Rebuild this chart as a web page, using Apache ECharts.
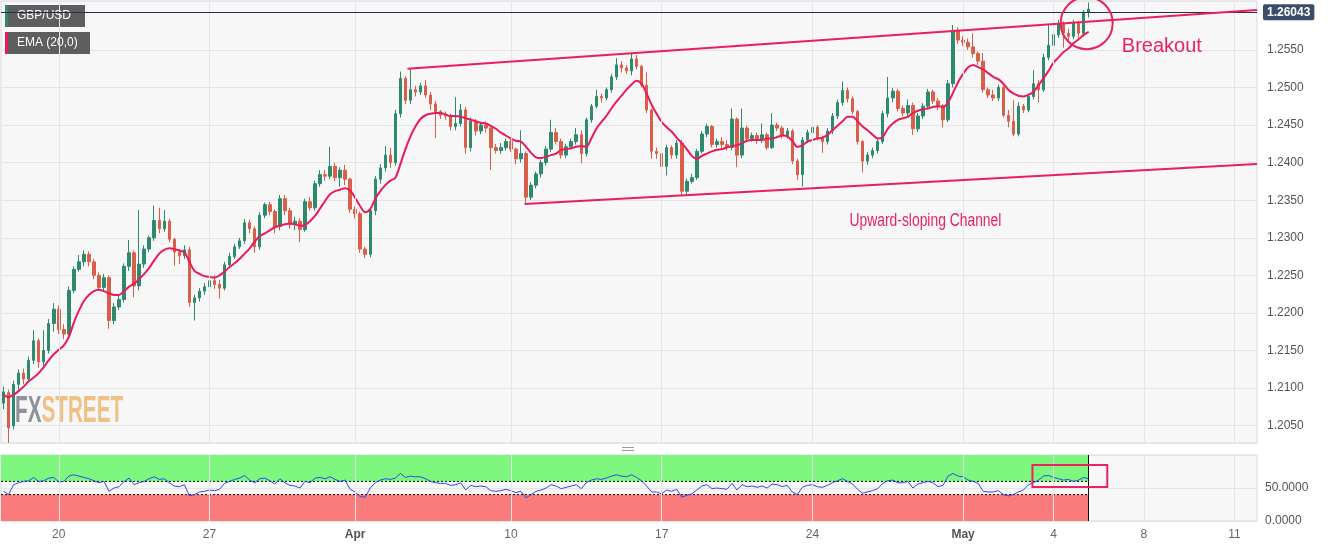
<!DOCTYPE html>
<html><head><meta charset="utf-8">
<script src="https://cdn.jsdelivr.net/npm/echarts@6/dist/echarts.min.js"></script>
<style>html,body{margin:0;padding:0;background:#fff}#c{width:1328px;height:548px}</style>
</head><body><div id="c"></div>
<script>
// ---- data (4-hour candles, GBP/USD) ----
const opens = [
1.2080,1.2094,1.2050,1.2105,1.2120,1.2112,1.2137,1.2163,1.2135,1.2150,1.2186,1.2205,1.2178,1.2172,1.2230,1.2258,1.2268,1.2278,1.2268,1.2250,
1.2234,1.2247,1.2190,1.2208,1.2218,1.2262,1.2280,1.2236,1.2265,1.2285,1.2300,1.2323,1.2312,1.2322,1.2298,1.2281,1.2276,1.2284,1.2214,1.2220,
1.2229,1.2235,1.2243,1.2238,1.2233,1.2264,1.2275,1.2288,1.2296,1.2320,1.2312,1.2288,1.2330,1.2344,1.2335,1.2315,1.2352,1.2336,1.2318,1.2322,
1.2311,1.2348,1.2340,1.2372,1.2384,1.2382,1.2395,1.2380,1.2390,1.2378,1.2338,1.2332,1.2285,1.2278,1.2336,1.2378,1.2393,1.2410,1.2400,1.2465,
1.2512,1.2483,1.2497,1.2494,1.2502,1.2490,1.2478,1.2468,1.2463,1.2462,1.2448,1.2452,1.2470,1.2420,1.2455,1.2442,1.2450,1.2446,1.2420,1.2416,
1.2420,1.2428,1.2418,1.2405,1.2412,1.2354,1.2370,1.2385,1.2400,1.2418,1.2440,1.2428,1.2410,1.2421,1.2428,1.2437,1.2412,1.2457,1.2475,1.2488,
1.2486,1.2497,1.2514,1.2530,1.2526,1.2522,1.2538,1.2528,1.2503,1.2470,1.2415,1.2412,1.2395,1.2420,1.2410,1.2426,1.2362,1.2375,1.2380,1.2415,
1.2438,1.2448,1.2424,1.2428,1.2424,1.2420,1.2458,1.2410,1.2446,1.2432,1.2436,1.2430,1.2437,1.2420,1.2450,1.2446,1.2436,1.2442,1.2402,1.2384,
1.2430,1.2440,1.2447,1.2432,1.2428,1.2442,1.2462,1.2480,1.2496,1.2485,1.2468,1.2428,1.2402,1.2410,1.2416,1.2428,1.2465,1.2486,1.2495,1.2472,
1.2466,1.2476,1.2445,1.2462,1.2475,1.2494,1.2482,1.2476,1.2457,1.2505,1.2576,1.2563,1.2560,1.2554,1.2545,1.2535,1.2497,1.2490,1.2486,1.2500,
1.2463,1.2455,1.2438,1.2475,1.2470,1.2488,1.2505,1.2497,1.2540,1.2556,1.2570,1.2585,1.2572,1.2568,1.2585,1.2572,1.2600
];
const closes = [
1.2095,1.2047,1.2105,1.2120,1.2112,1.2137,1.2163,1.2135,1.2150,1.2186,1.2205,1.2178,1.2172,1.2230,1.2258,1.2268,1.2278,1.2268,1.2250,1.2234,
1.2247,1.2190,1.2208,1.2218,1.2262,1.2280,1.2236,1.2265,1.2285,1.2300,1.2323,1.2312,1.2322,1.2298,1.2281,1.2276,1.2284,1.2214,1.2220,1.2229,
1.2235,1.2243,1.2238,1.2233,1.2264,1.2275,1.2288,1.2296,1.2320,1.2312,1.2288,1.2330,1.2344,1.2335,1.2315,1.2352,1.2336,1.2318,1.2322,1.2311,
1.2348,1.2340,1.2372,1.2384,1.2382,1.2395,1.2380,1.2390,1.2378,1.2338,1.2332,1.2285,1.2278,1.2336,1.2378,1.2393,1.2410,1.2400,1.2465,1.2512,
1.2483,1.2497,1.2494,1.2502,1.2490,1.2478,1.2468,1.2463,1.2462,1.2448,1.2452,1.2470,1.2420,1.2455,1.2442,1.2450,1.2446,1.2420,1.2416,1.2420,
1.2428,1.2418,1.2405,1.2412,1.2354,1.2370,1.2385,1.2400,1.2418,1.2440,1.2428,1.2410,1.2421,1.2428,1.2437,1.2412,1.2457,1.2475,1.2488,1.2486,
1.2497,1.2514,1.2530,1.2526,1.2522,1.2538,1.2528,1.2503,1.2470,1.2415,1.2412,1.2395,1.2420,1.2410,1.2426,1.2362,1.2375,1.2380,1.2415,1.2438,
1.2448,1.2424,1.2428,1.2424,1.2420,1.2458,1.2410,1.2446,1.2432,1.2436,1.2430,1.2437,1.2420,1.2450,1.2446,1.2436,1.2442,1.2402,1.2384,1.2430,
1.2440,1.2447,1.2432,1.2428,1.2442,1.2462,1.2480,1.2496,1.2485,1.2468,1.2428,1.2402,1.2410,1.2416,1.2428,1.2465,1.2486,1.2495,1.2472,1.2466,
1.2476,1.2445,1.2462,1.2475,1.2494,1.2482,1.2476,1.2457,1.2505,1.2576,1.2563,1.2560,1.2554,1.2545,1.2535,1.2497,1.2490,1.2486,1.2500,1.2463,
1.2455,1.2438,1.2475,1.2470,1.2488,1.2505,1.2497,1.2540,1.2556,1.2570,1.2585,1.2572,1.2568,1.2585,1.2572,1.2600,1.26043
];
const lows = [
1.2072,1.2027,1.2045,1.2098,1.2105,1.2108,1.2132,1.2127,1.2130,1.2146,1.2175,1.2172,1.2165,1.2168,1.2226,1.2255,1.2262,1.2262,1.2245,1.2230,
1.2230,1.2179,1.2185,1.2204,1.2214,1.2256,1.2221,1.2230,1.2260,1.2281,1.2296,1.2306,1.2308,1.2294,1.2263,1.2265,1.2272,1.2208,1.2190,1.2215,
1.2224,1.2230,1.2232,1.2219,1.2230,1.2260,1.2272,1.2285,1.2292,1.2306,1.2280,1.2284,1.2326,1.2330,1.2306,1.2310,1.2330,1.2312,1.2310,1.2294,
1.2308,1.2336,1.2336,1.2368,1.2376,1.2378,1.2375,1.2368,1.2370,1.2333,1.2326,1.2280,1.2273,1.2274,1.2330,1.2372,1.2388,1.2393,1.2396,1.2460,
1.2478,1.2478,1.2488,1.2490,1.2486,1.2470,1.2433,1.2458,1.2457,1.2443,1.2443,1.2448,1.2412,1.2415,1.2436,1.2438,1.2440,1.2390,1.2412,1.2412,
1.2416,1.2414,1.2398,1.2400,1.2346,1.2350,1.2366,1.2380,1.2396,1.2414,1.2424,1.2405,1.2406,1.2418,1.2424,1.2399,1.2408,1.2453,1.2472,1.2480,
1.2483,1.2493,1.2510,1.2520,1.2518,1.2516,1.2524,1.2500,1.2466,1.2405,1.2405,1.2390,1.2383,1.2405,1.2405,1.2356,1.2358,1.2372,1.2377,1.2412,
1.2434,1.2420,1.2420,1.2420,1.2416,1.2416,1.2394,1.2406,1.2428,1.2428,1.2425,1.2426,1.2417,1.2418,1.2442,1.2432,1.2432,1.2398,1.2377,1.2368,
1.2426,1.2436,1.2430,1.2413,1.2424,1.2438,1.2458,1.2476,1.2480,1.2464,1.2424,1.2387,1.2397,1.2406,1.2412,1.2425,1.2460,1.2480,1.2468,1.2462,
1.2462,1.2437,1.2441,1.2458,1.2472,1.2478,1.2470,1.2447,1.2454,1.2500,1.2558,1.2555,1.2550,1.2540,1.2530,1.2493,1.2486,1.2482,1.2482,1.2460,
1.2447,1.2435,1.2435,1.2466,1.2467,1.2484,1.2480,1.2494,1.2536,1.2550,1.2566,1.2553,1.2559,1.2564,1.2566,1.2568,1.2593
];
const highs = [
1.2102,1.2098,1.2110,1.2125,1.2126,1.2142,1.2177,1.2166,1.2177,1.2192,1.2213,1.2210,1.2185,1.2235,1.2262,1.2277,1.2283,1.2282,1.2272,1.2254,
1.2252,1.2250,1.2213,1.2224,1.2266,1.2297,1.2283,1.2337,1.2290,1.2303,1.2343,1.2340,1.2337,1.2325,1.2300,1.2285,1.2290,1.2288,1.2224,1.2233,
1.2240,1.2250,1.2250,1.2244,1.2268,1.2280,1.2292,1.2300,1.2325,1.2324,1.2315,1.2334,1.2347,1.2348,1.2338,1.2357,1.2357,1.2340,1.2328,1.2326,
1.2352,1.2354,1.2376,1.2390,1.2390,1.2421,1.2400,1.2394,1.2397,1.2380,1.2342,1.2335,1.2288,1.2340,1.2382,1.2398,1.2422,1.2420,1.2470,1.2521,
1.2515,1.2526,1.2502,1.2506,1.2510,1.2494,1.2482,1.2470,1.2468,1.2465,1.2487,1.2478,1.2474,1.2460,1.2458,1.2453,1.2455,1.2450,1.2425,1.2426,
1.2432,1.2432,1.2420,1.2443,1.2415,1.2374,1.2388,1.2404,1.2422,1.2457,1.2446,1.2432,1.2425,1.2432,1.2446,1.2443,1.2460,1.2478,1.2497,1.2492,
1.2500,1.2518,1.2539,1.2535,1.2530,1.2546,1.2543,1.2530,1.2520,1.2472,1.2420,1.2418,1.2424,1.2423,1.2430,1.2430,1.2379,1.2385,1.2418,1.2442,
1.2452,1.2450,1.2432,1.2434,1.2430,1.2472,1.2460,1.2472,1.2449,1.2440,1.2440,1.2452,1.2440,1.2466,1.2453,1.2449,1.2446,1.2445,1.2405,1.2434,
1.2444,1.2450,1.2450,1.2436,1.2446,1.2466,1.2484,1.2508,1.2500,1.2488,1.2470,1.2430,1.2414,1.2420,1.2432,1.2469,1.2514,1.2499,1.2498,1.2476,
1.2484,1.2480,1.2466,1.2479,1.2498,1.2497,1.2486,1.2478,1.2510,1.2583,1.2580,1.2568,1.2565,1.2572,1.2548,1.2546,1.2500,1.2497,1.2504,1.2503,
1.2470,1.2483,1.2480,1.2478,1.2492,1.2523,1.2510,1.2545,1.2583,1.2576,1.2590,1.2588,1.2578,1.2590,1.2588,1.2603,1.2613
];
const ema20 = [
1.2091,1.2088,1.2091,1.2096,1.2102,1.2109,1.2114,1.2120,1.2128,1.2137,1.2145,1.2151,1.2157,1.2168,1.2187,1.2203,1.2216,1.2224,1.2229,1.2231,
1.2229,1.2226,1.2224,1.2224,1.2229,1.2235,1.2239,1.2245,1.2252,1.2260,1.2270,1.2279,1.2284,1.2286,1.2285,1.2283,1.2281,1.2268,1.2256,1.2252,
1.2249,1.2248,1.2247,1.2250,1.2255,1.2261,1.2266,1.2272,1.2279,1.2286,1.2295,1.2302,1.2306,1.2310,1.2314,1.2316,1.2318,1.2319,1.2318,1.2316,
1.2317,1.2322,1.2329,1.2339,1.2349,1.2358,1.2362,1.2364,1.2366,1.2363,1.2353,1.2342,1.2334,1.2338,1.2352,1.2362,1.2370,1.2376,1.2380,1.2398,
1.2418,1.2435,1.2448,1.2458,1.2463,1.2465,1.2466,1.2466,1.2464,1.2462,1.2462,1.2461,1.2459,1.2457,1.2455,1.2453,1.2452,1.2449,1.2445,1.2440,
1.2436,1.2432,1.2429,1.2428,1.2421,1.2413,1.2407,1.2406,1.2408,1.2410,1.2412,1.2417,1.2418,1.2419,1.2421,1.2422,1.2421,1.2432,1.2445,1.2454,
1.2462,1.2472,1.2481,1.2489,1.2497,1.2504,1.2509,1.2505,1.2492,1.2477,1.2465,1.2454,1.2447,1.2441,1.2433,1.2426,1.2418,1.2409,1.2405,1.2409,
1.2412,1.2415,1.2417,1.2418,1.2420,1.2422,1.2423,1.2426,1.2429,1.2430,1.2430,1.2430,1.2432,1.2432,1.2434,1.2436,1.2435,1.2429,1.2421,1.2423,
1.2428,1.2430,1.2432,1.2433,1.2437,1.2443,1.2449,1.2455,1.2461,1.2461,1.2455,1.2448,1.2443,1.2437,1.2432,1.2434,1.2445,1.2452,1.2457,1.2459,
1.2461,1.2466,1.2469,1.2471,1.2472,1.2474,1.2475,1.2474,1.2480,1.2493,1.2507,1.2518,1.2527,1.2530,1.2527,1.2524,1.2519,1.2514,1.2511,1.2505,
1.2497,1.2492,1.2489,1.2488,1.2490,1.2494,1.2503,1.2512,1.2522,1.2533,1.2540,1.2547,1.2552,1.2559,1.2564,1.2570,1.2574
];
const rsi14 = [
45,40,55,58,60,61,66,60,61,65,66,59,60,68,70,68,66,64,61,58,
60,45,50,52,60,65,55,58,60,64,67,63,64,58,53,52,55,38,40,44,
45,47,46,48,57,60,63,65,69,62,58,64,65,61,56,64,58,54,53,50,
60,58,65,66,64,67,63,60,62,48,44,37,36,50,58,62,64,63,65,72,
66,68,67,67,64,60,58,57,57,54,55,58,47,54,52,53,52,46,45,46,
48,46,43,45,35,40,45,47,50,55,53,49,51,53,55,49,58,62,64,63,
65,68,70,68,67,70,66,61,53,44,44,41,47,45,48,36,39,41,47,53,
55,49,50,49,48,57,47,55,52,53,51,53,50,56,55,52,54,44,40,51,
54,55,52,51,54,58,61,64,60,56,48,42,44,46,49,57,61,62,58,58,
60,50,56,58,60,58,52,54,68,72,68,67,62,60,57,45,44,44,46,40,
38,40,44,47,55,58,62,68,69,66,64,62,63,60,62,66,64
];
// axis / tick labels
const TOTAL_SLOTS = 250;                         // candle slots incl. empty future space
const tickIndex = [11, 41, 70, 101, 131, 161, 191, 209, 227, 245];
const tickText  = ['20', '27', 'Apr', '10', '17', '24', 'May', '4', '8', '11'];
const boldTicks = ['Apr', 'May'];
// annotations (in data coordinates: slot index, price / RSI)
const upperChannel = [[80.4, 1.2525], [249.5, 1.2603]];
const lowerChannel = [[103.7, 1.2345], [249.5, 1.2398]];
const breakoutCircle = [215.6, 1.25855];
const breakoutLabel = [222.6, 1.2555];
const channelLabel = [168.4, 1.2322];
const rsiBox = [[204.8, 84.8], [219.7, 51.5]];
const rsiUpper = 60, rsiLower = 40;
const lastPrice = 1.26043;

// ---- chart ----
const slots = Array.from({length: TOTAL_SLOTS}, (_, i) => String(i));
const tickSet = new Set(tickIndex);
const candles = closes.map((c, i) => [opens[i], c, lows[i], highs[i]]);
const rsiPts = rsi14.map((v, i) => [i, v]);
const lastIdx = closes.length - 1;
const UP = '#2e8a6c', DOWN = '#da5f4a', PINK = '#e8245f';
const GRID_LINE = '#e5e5e8';
const vGrid = tickIndex.map(i => ({xAxis: i}));

const chart = echarts.init(document.getElementById('c'));
chart.setOption({
  animation: false,
  backgroundColor: '#ffffff',
  textStyle: {fontFamily: 'Liberation Sans, Arial, sans-serif'},
  grid: [
    {left: 1, top: 1, width: 1256, height: 442, show: true, backgroundColor: '#f7f7f7', borderColor: '#d3d7e2', borderWidth: 1},
    {left: 1, top: 455, width: 1256, height: 66, show: true, backgroundColor: '#f7f7f7', borderColor: '#d3d7e2', borderWidth: 1}
  ],
  xAxis: [
    {type: 'category', gridIndex: 0, data: slots, boundaryGap: true,
     axisLine: {show: false}, axisTick: {show: false}, axisLabel: {show: false}, splitLine: {show: false}},
    {type: 'category', gridIndex: 1, data: slots, boundaryGap: true,
     axisLine: {show: false}, axisTick: {show: false}, splitLine: {show: false},
     axisLabel: {show: true, margin: 8, fontSize: 12, color: '#666',
       interval: (idx) => tickSet.has(idx),
       formatter: (v, idx) => {
         const k = tickIndex.indexOf(Number(v));
         if (k < 0) return '';
         const t = tickText[k];
         return boldTicks.includes(t) ? '{b|' + t + '}' : t;
       },
       rich: {b: {fontWeight: 'bold', color: '#555', fontSize: 12}}}},
    {type: 'value', gridIndex: 0, min: -0.5, max: TOTAL_SLOTS - 0.5, show: false},
    {type: 'value', gridIndex: 1, min: -0.5, max: TOTAL_SLOTS - 0.5, show: false}
  ],
  yAxis: [
    {type: 'value', gridIndex: 0, position: 'right', min: 1.2027, max: 1.2615, splitNumber: 12, scale: true,
     axisLine: {show: false}, axisTick: {show: false},
     axisLabel: {color: '#555', fontSize: 12, margin: 10, showMinLabel: false, showMaxLabel: false,
       formatter: v => v.toFixed(4)},
     splitLine: {lineStyle: {color: GRID_LINE}}},
    {type: 'value', gridIndex: 1, position: 'right', min: 0, max: 100, interval: 50,
     axisLine: {show: false}, axisTick: {show: false},
     axisLabel: {color: '#555', fontSize: 12, margin: 8, showMaxLabel: false, formatter: v => v.toFixed(4)},
     splitLine: {lineStyle: {color: GRID_LINE}}}
  ],
  series: [
    // vertical grid lines (date ticks)
    {type: 'line', xAxisIndex: 2, yAxisIndex: 0, data: [], z: 1, silent: true,
     markLine: {silent: true, symbol: 'none', label: {show: false}, lineStyle: {color: GRID_LINE, width: 1, type: 'solid'}, data: vGrid}},
    {type: 'line', xAxisIndex: 3, yAxisIndex: 1, data: [], z: 1, silent: true,
     markLine: {silent: true, symbol: 'none', label: {show: false}, lineStyle: {color: GRID_LINE, width: 1, type: 'solid'}, data: vGrid}},
    // candles
    {name: 'GBP/USD', type: 'candlestick', xAxisIndex: 0, yAxisIndex: 0, data: candles, barWidth: 3, z: 3,
     itemStyle: {color: UP, color0: DOWN, borderColor: UP, borderColor0: DOWN, borderWidth: 1},
     markLine: {silent: true, symbol: 'none', animation: false,
       lineStyle: {color: '#23304a', width: 1, type: 'solid'},
       label: {show: true, position: 'end', distance: 6, formatter: () => lastPrice.toFixed(5),
         backgroundColor: '#3b4d6b', color: '#fff', fontWeight: 'bold', fontSize: 12, padding: [2, 4, 2, 4], borderRadius: 2},
       data: [{yAxis: lastPrice}]}},
    // EMA
    {name: 'EMA (20,0)', type: 'line', xAxisIndex: 0, yAxisIndex: 0, data: ema20, showSymbol: false, smooth: 0.3, z: 4,
     lineStyle: {color: '#e91b5d', width: 2}},
    // channel lines
    {type: 'line', xAxisIndex: 2, yAxisIndex: 0, data: upperChannel, showSymbol: false, z: 5, lineStyle: {color: '#ec1e5c', width: 2}},
    {type: 'line', xAxisIndex: 2, yAxisIndex: 0, data: lowerChannel, showSymbol: false, z: 5, lineStyle: {color: '#ec1e5c', width: 2}},
    // RSI bands
    {type: 'line', xAxisIndex: 3, yAxisIndex: 1, data: [[-0.5, rsiUpper], [lastIdx, rsiUpper]], showSymbol: false, z: 2,
     lineStyle: {color: '#111', width: 1, type: [2, 2]},
     markArea: {silent: true, itemStyle: {color: '#7df77d'}, data: [[{xAxis: -0.5, yAxis: rsiUpper}, {xAxis: lastIdx, yAxis: 100}]]}},
    {type: 'line', xAxisIndex: 3, yAxisIndex: 1, data: [[-0.5, rsiLower], [lastIdx, rsiLower]], showSymbol: false, z: 2,
     lineStyle: {color: '#111', width: 1, type: [2, 2]},
     markArea: {silent: true, itemStyle: {color: '#f97b7b'}, data: [[{xAxis: -0.5, yAxis: 0}, {xAxis: lastIdx, yAxis: rsiLower}]]},
     markLine: {silent: true, symbol: 'none', label: {show: false}, lineStyle: {color: '#111', width: 1, type: 'solid'},
       data: [[{coord: [lastIdx, 0]}, {coord: [lastIdx, 100]}]]}},
    // RSI line
    {name: 'RSI', type: 'line', xAxisIndex: 3, yAxisIndex: 1, data: rsiPts, showSymbol: false, z: 4,
     lineStyle: {color: '#2d4af2', width: 1}}
  ]
});

const P = (xi, yi, pt) => chart.convertToPixel({xAxisIndex: xi, yAxisIndex: yi}, pt);
const cc = P(2, 0, breakoutCircle);
const bl = P(2, 0, breakoutLabel);
const cl = P(2, 0, channelLabel);
const b1 = P(3, 1, rsiBox[0]), b2 = P(3, 1, rsiBox[1]);

function legendBox(x, y, w, h, bg, bar, text) {
  return {type: 'group', x, y, z: 200, children: [
    {type: 'rect', shape: {x: 0, y: 0, width: w, height: h}, style: {fill: bg}},
    {type: 'rect', shape: {x: 0, y: 0, width: 3, height: h}, style: {fill: bar}},
    {type: 'text', x: 12, y: h / 2, style: {text, fill: '#fff', font: '12px Liberation Sans, Arial, sans-serif', verticalAlign: 'middle'}}
  ]};
}

const WM_FONT = 'bold 36px Liberation Sans, Arial, sans-serif';
chart.setOption({
  graphic: [
    {type: 'text', x: 15, y: 394, z: 1, scaleX: 0.575,
     style: {text: '{a|FX}{b|STREET}', font: WM_FONT,
       rich: {a: {fill: '#8f919b', font: WM_FONT}, b: {fill: '#f0c187', font: WM_FONT}}}},
    legendBox(5, 5, 80, 22, 'rgba(80,80,80,0.92)', UP, 'GBP/USD'),
    legendBox(5, 32, 85, 22, 'rgba(80,80,80,0.92)', '#e91b5d', 'EMA (20,0)'),
    legendBox(5, 458, 110, 22, '#2f5f30', '#22e822', 'RSI (14,60,40,1)'),
    {type: 'circle', z: 150, shape: {cx: cc[0], cy: cc[1], r: 26}, style: {fill: 'none', stroke: PINK, lineWidth: 2}},
    {type: 'text', z: 150, x: bl[0], y: bl[1], style: {text: 'Breakout', fill: PINK, font: '20px Liberation Sans, Arial, sans-serif', verticalAlign: 'middle'}},
    {type: 'text', z: 150, x: cl[0], y: cl[1], scaleX: 0.77,
     style: {text: 'Upward-sloping Channel', fill: PINK, font: '18px Liberation Sans, Arial, sans-serif', verticalAlign: 'middle'}},
    {type: 'rect', z: 150, shape: {x: b1[0], y: b1[1], width: b2[0] - b1[0], height: b2[1] - b1[1]}, style: {fill: 'none', stroke: PINK, lineWidth: 2}},
    {type: 'group', x: 622, y: 447, z: 150, children: [
      {type: 'line', shape: {x1: 0, y1: 0.5, x2: 12, y2: 0.5}, style: {stroke: '#9a9a9a', lineWidth: 1}},
      {type: 'line', shape: {x1: 0, y1: 3.5, x2: 12, y2: 3.5}, style: {stroke: '#9a9a9a', lineWidth: 1}}
    ]}
  ]
});
</script></body></html>
